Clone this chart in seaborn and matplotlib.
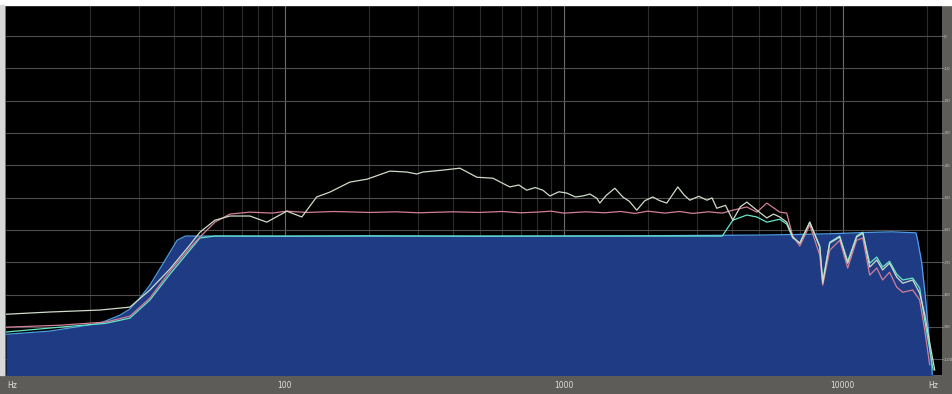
import pandas as pd
import matplotlib
matplotlib.use("Agg")
import matplotlib.pyplot as plt
from matplotlib.patches import Rectangle
from matplotlib.ticker import FixedLocator, FixedFormatter, LogLocator, NullFormatter
import seaborn as sns

# Pink-noise excitation spectrum (filled area), Hz / dB
noise_hz = [10, 14.4, 21.7, 25.6, 27.8, 30.2, 32.8, 35.6, 38.7, 41.1, 44.0,
            60, 100, 200, 500, 1000, 2000, 3000, 5000, 7000, 9000, 12000,
            15000, 18300, 18570, 19190, 19830, 20500, 21020]
noise_db = [-92.3, -91.3, -88.9, -86.4, -84.5, -81.1, -77.1, -72.1, -66.9, -63.2, -61.9,
            -61.9, -62.0, -61.8, -62.0, -61.9, -61.8, -61.7, -61.6, -61.4, -61.2, -60.8,
            -60.6, -60.9, -63.2, -70.0, -81.4, -95.3, -106.0]

# Measured response, reference channel (light trace)
ref_hz = [10, 14.4, 21.7, 27.8, 32.8, 38.7, 45.6, 49.6, 56.1, 63.5, 74.9, 86.1,
          101.6, 115, 130, 145, 171, 197, 238, 274, 297, 312, 368, 424, 488, 557,
          640, 690, 736, 790, 841, 891, 960, 1025, 1100, 1170, 1240, 1313, 1346, 1420,
          1524, 1627, 1720, 1827, 1950, 2085, 2200, 2340, 2563, 2700, 2831, 3050, 3258,
          3400, 3535, 3800, 4036, 4300, 4530, 4921, 5345, 5650, 5945, 6299, 6620, 7016,
          7620, 8275, 8480, 8983, 9755, 10420, 11220, 11800, 12500, 13250, 13900, 14720,
          15620, 16410, 17820, 18880, 19680, 20510, 21380]
ref_db = [-86.1, -85.4, -84.8, -83.9, -78.6, -72.1, -64.7, -60.7, -57.0, -55.7, -55.7, -57.6,
          -54.2, -56.0, -49.8, -48.3, -45.2, -44.3, -41.8, -42.1, -42.7, -42.1, -41.5, -40.9,
          -43.7, -44.0, -46.7, -46.1, -47.7, -46.9, -47.7, -49.5, -48.2, -48.6, -49.8, -49.5,
          -48.9, -50.2, -51.7, -49.3, -47.1, -49.8, -51.2, -53.9, -51.0, -49.8, -50.9, -51.7,
          -46.7, -49.2, -50.8, -49.6, -50.8, -50.1, -53.3, -52.4, -57.0, -52.8, -51.4, -53.9,
          -56.3, -55.1, -56.0, -57.6, -62.2, -64.1, -57.6, -65.3, -76.5, -64.1, -62.2, -70.3,
          -62.2, -61.0, -71.5, -69.3, -72.4, -70.3, -74.6, -76.5, -75.5, -79.6, -86.1, -95.0,
          -103.4]

# Left channel (pink trace)
left_hz = [10, 15.6, 22.8, 27.8, 32.8, 38.7, 45.6, 49.6, 56.1, 63.5, 74.9, 90,
           101.6, 120, 150, 200, 250, 300, 400, 500, 600, 700, 800, 900, 1000, 1200,
           1400, 1600, 1800, 2000, 2300, 2600, 2900, 3300, 3700, 4036, 4530, 4921,
           5345, 5945, 6299, 6620, 7016, 7620, 8275, 8480, 8983, 9755, 10420, 11220,
           11800, 12500, 13250, 13900, 14720, 15620, 16410, 17820, 18880, 19680, 20510]
left_db = [-90.1, -89.5, -88.5, -86.7, -81.1, -72.8, -65.6, -62.2, -57.6, -55.1, -54.5, -54.8,
           -54.2, -54.6, -54.3, -54.6, -54.4, -54.7, -54.4, -54.6, -54.3, -54.7, -54.5, -54.2,
           -54.8, -54.4, -54.7, -54.3, -54.9, -54.2, -54.8, -54.3, -54.9, -54.4, -54.8, -53.9,
           -52.9, -54.5, -51.7, -54.5, -54.8, -61.9, -65.0, -58.5, -67.8, -77.1, -66.3, -63.2,
           -71.8, -63.2, -62.5, -74.0, -71.8, -75.5, -73.1, -77.7, -79.3, -78.6, -81.7, -91.0,
           -101.8]

# Right channel (cyan trace)
right_hz = [10, 15.6, 22.8, 27.8, 32.8, 38.7, 45.6, 49.6, 56.1, 100, 1000, 3700,
            4036, 4530, 4921, 5345, 5945, 6299, 6620, 7016, 7620, 8275, 8480, 8983,
            9755, 10420, 11220, 11800, 12500, 13250, 13900, 14720, 15620, 16410,
            17820, 18880, 19680, 20510, 21100]
right_db = [-91.6, -90.1, -88.9, -87.3, -81.7, -73.7, -66.3, -62.5, -61.9, -61.9, -61.9, -61.9,
            -57.0, -55.4, -56.0, -57.6, -56.7, -58.2, -62.5, -64.1, -57.6, -65.0, -75.9, -63.8,
            -61.9, -69.7, -61.9, -60.7, -70.3, -68.4, -71.5, -69.7, -73.7, -75.5, -74.9, -78.0,
            -88.0, -97.0, -103.4]

freq_ticks = [100, 1000, 10000]
freq_labels = ["100", "1000", "10000"]
level_ticks = [0, -10, -20, -30, -40, -50, -60, -70, -80, -90, -100]
level_labels = [str(v) for v in level_ticks]

sns.set_style("dark")
W, H = 952, 394
fig = plt.figure(figsize=(W / 100, H / 100), dpi=100, facecolor="#5d5c58")
fig.patches.append(Rectangle((0, 1 - 5 / H), 1, 5 / H, transform=fig.transFigure,
                             color="white", zorder=0))
fig.patches.append(Rectangle((0, 19 / H), 4 / W, 1 - 24 / H, transform=fig.transFigure,
                             color="#d8d8d8", zorder=0))
ax = fig.add_axes([6 / W, 19 / H, 936 / W, 370 / H])
ax.set_facecolor("black")
ax.set_xscale("log")
ax.set_xlim(10, 22700)
ax.set_ylim(-104.9, 9.6)
ax.set_axisbelow(True)

# grid: decades brighter than the in-between lines
ax.xaxis.set_major_locator(FixedLocator(freq_ticks))
ax.xaxis.set_major_formatter(FixedFormatter(freq_labels))
ax.xaxis.set_minor_locator(LogLocator(base=10, subs=range(2, 10)))
ax.xaxis.set_minor_formatter(NullFormatter())
ax.yaxis.set_major_locator(FixedLocator(level_ticks))
ax.yaxis.set_major_formatter(FixedFormatter(level_labels))
ax.grid(True, which="major", axis="x", color="#6c6c6c", lw=0.8)
ax.grid(True, which="minor", axis="x", color="#2c2c2c", lw=0.8)
ax.grid(True, which="major", axis="y", color="#4e4e4e", lw=0.8)

# excitation spectrum as a filled area with a light edge
ax.fill_between(noise_hz, noise_db, -110, color="#1f3b84", lw=0, zorder=1)
sns.lineplot(x=noise_hz, y=noise_db, ax=ax, color="#4f9ee6", lw=0.9,
             estimator=None, sort=False, zorder=2)

sns.lineplot(x=right_hz, y=right_db, ax=ax, color="#66e6c8", lw=0.9,
             estimator=None, sort=False, zorder=3)
sns.lineplot(x=left_hz, y=left_db, ax=ax, color="#d27f96", lw=0.9,
             estimator=None, sort=False, zorder=4)
sns.lineplot(x=ref_hz, y=ref_db, ax=ax, color="#cfdcc8", lw=0.9,
             estimator=None, sort=False, zorder=5)

for s in ax.spines.values():
    s.set_visible(False)
ax.yaxis.tick_right()
ax.tick_params(axis="x", which="major", length=3, width=0.6, color="#dddddd",
               labelsize=5.5, labelcolor="#e0e0e0", pad=1.5, direction="out")
ax.tick_params(axis="x", which="minor", length=2, width=0.6, color="#bbbbbb",
               direction="out")
ax.tick_params(axis="y", length=1, width=0.5, color="#cccccc", labelsize=3.0,
               labelcolor="#c8c8c8", pad=0.3)
ax.set_xlabel("")
ax.set_ylabel("")

fig.text(12 / W, 9 / H, "Hz", color="#e0e0e0", fontsize=5.5, ha="center", va="center")
fig.text(933 / W, 9 / H, "Hz", color="#e0e0e0", fontsize=5.5, ha="center", va="center")

fig.savefig("out.png", dpi=100, facecolor=fig.get_facecolor())
